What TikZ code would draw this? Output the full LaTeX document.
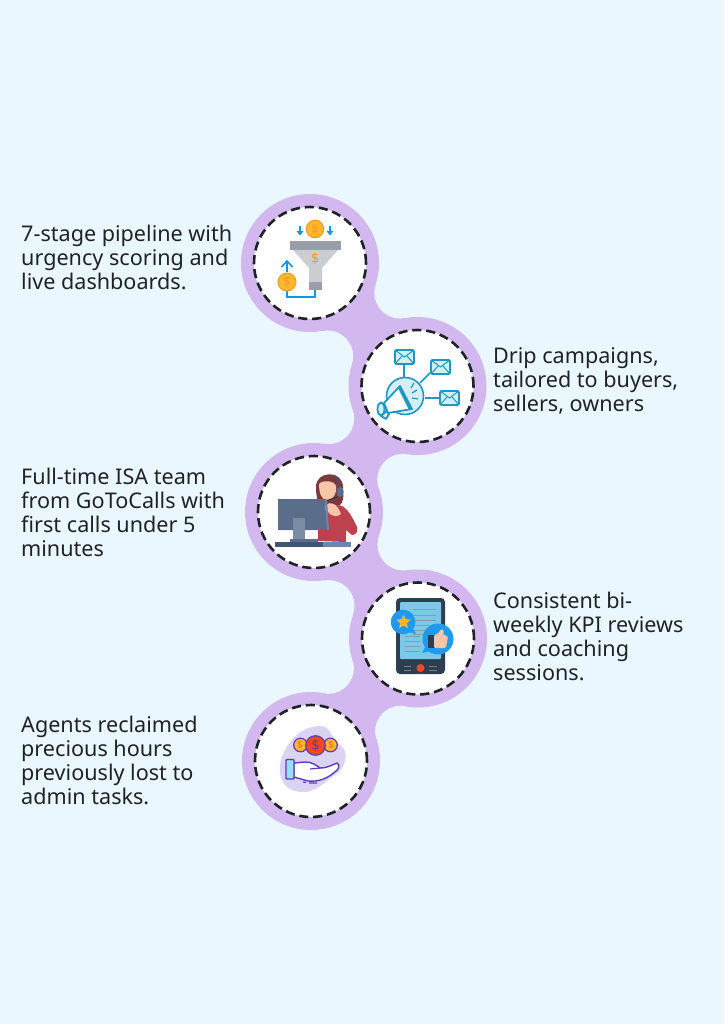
\documentclass[tikz,border=0pt]{standalone}
\usepackage{fontspec}
\setmainfont{Noto Sans}
\usepackage{xcolor}
\usetikzlibrary{calc}
\usetikzlibrary{shapes.geometric}
\definecolor{paper}{HTML}{EBF7FE}
\definecolor{lilac}{HTML}{D2B8EF}
\definecolor{ink}{HTML}{1E2326}
\definecolor{coin}{HTML}{FFB72E}
\definecolor{coinedge}{HTML}{F59B23}
\definecolor{skyblue}{HTML}{1296E6}
\definecolor{mailblue}{HTML}{2196BE}
\definecolor{maillight}{HTML}{D5EEF7}
\definecolor{violet}{HTML}{5B3FB0}
\definecolor{blob}{HTML}{DAD3F3}
\definecolor{greydark}{HTML}{9A9EA8}
\definecolor{greylight}{HTML}{CBCDD1}
\definecolor{skin}{HTML}{F7C6A8}
\definecolor{hair}{HTML}{7A3B3F}
\definecolor{jumper}{HTML}{BC424D}
\definecolor{slate}{HTML}{5A6E8C}
\definecolor{slatedark}{HTML}{3F5573}
\definecolor{slatelight}{HTML}{6C84B0}
\definecolor{phone}{HTML}{2C3E50}
\definecolor{screen}{HTML}{7CC8E8}
\definecolor{bubble}{HTML}{1E9BF0}
\tikzset{
	ring/.style={circle,fill=lilac,minimum size=138pt,inner sep=0pt,outer sep=0pt},
	spot/.style={circle,fill=white,draw=ink,line width=2.6pt,dash pattern=on 9.2pt off 4.8pt,minimum size=112pt,inner sep=0pt,outer sep=0pt},
	caption/.style={anchor=west,align=left,inner sep=0pt,text=ink,font=\fontsize{21.6}{24}\selectfont},
	dollar/.style={inner sep=0pt,font=\fontsize{#1}{#1}\selectfont\bfseries},
	envelope/.style={draw=mailblue,line width=1.8pt,fill=maillight,rounded corners=1.5pt},
}
\begin{document}
\begin{tikzpicture}[x=1pt,y=-1pt]
		\fill[paper] (0,0) rectangle (724,1024);
		\useasboundingbox (0,0) rectangle (724,1024);
		\coordinate (c1) at (310,263);
		\coordinate (c2) at (417.5,386);
		\coordinate (c3) at (314,512);
		\coordinate (c4) at (418,638.5);
		\coordinate (c5) at (311,761);
		% necks between the rings
		\foreach \a/\b in {c1/c2,c2/c3,c3/c4,c4/c5}{
			\coordinate (fa) at ($(\a)!.5!(\b)!48.5pt!90:(\b)$);
			\coordinate (fb) at ($(\a)!.5!(\b)!48.5pt!-90:(\b)$);
			\fill[lilac] (\a) -- (fa) -- (\b) -- (fb) -- cycle;
			\fill[paper] (fa) circle (26);
			\fill[paper] (fb) circle (26);
		}
		\foreach \n in {1,...,5}{
			\node[ring] (ring\n) at (c\n) {};
			\node[spot] (spot\n) at (c\n) {};
		}
		\node[caption] (text1) at (21,257) {7-stage pipeline with\\urgency scoring and\\live dashboards.};
		\node[caption] (text2) at (493,380.5) {Drip campaigns,\\tailored to buyers,\\sellers, owners};
		\node[caption] (text3) at (21,512) {Full-time ISA team\\from GoToCalls with\\first calls under 5\\minutes};
		\node[caption] (text4) at (493,636.5) {Consistent bi-\\weekly KPI reviews\\and coaching\\sessions.};
		\node[caption] (text5) at (21,760) {Agents reclaimed\\precious hours\\previously lost to\\admin tasks.};
		% funnel
		\draw[skyblue,line width=1.5pt] (315,290) -- (315,297) -- (287,297) -- (287,291);
		\fill[greylight] (293,250) -- (338,250) -- (322,268) -- (322,282) -- (309,282) -- (309,268) -- cycle;
		\fill[greydark] (290,241) rectangle (341,250);
		\fill[greydark] (309,282) rectangle (322,290);
		\node[dollar=14,text=coinedge] (fd) at (315,259) {\$};
		\draw[coinedge,fill=coin,line width=1pt] (315,229) circle (8.8);
		\node[dollar=13,text=coinedge] (cd1) at (315,229) {\$};
		\draw[coinedge,fill=coin,line width=1pt] (287,282) circle (9);
		\node[dollar=13,text=coinedge] (cd2) at (287,282) {\$};
		\draw[skyblue,line width=1.6pt] (300,226) -- (300,233);
		\draw[skyblue,line width=1.6pt] (330,226) -- (330,233);
		\fill[skyblue] (296.5,231) -- (303.5,231) -- (300,235.5) -- cycle;
		\fill[skyblue] (326.5,231) -- (333.5,231) -- (330,235.5) -- cycle;
		\draw[skyblue,line width=1.6pt] (287,272) -- (287,262);
		\draw[skyblue,line width=1.6pt] (281.5,267) -- (287,261) -- (292.5,267);
		% megaphone
		\draw[mailblue,line width=1.6pt] (404,364) -- (404,377);
		\draw[mailblue,line width=1.6pt] (430,373) -- (420,383);
		\draw[mailblue,line width=1.6pt] (425,398) -- (439,398);
		\foreach \x/\y in {395/350,431/360,440/391}{
			\draw[envelope] (\x,\y) rectangle ++(19,14);
			\draw[mailblue,line width=1pt] (\x,\y) -- ++(9.5,7) -- ++(9.5,-7);
			\draw[mailblue,line width=1pt] (\x,\y+14) -- ++(7,-8) (\x+19,\y+14) -- ++(-7,-8);
		}
		\draw[mailblue,fill=maillight,line width=1.6pt] (405,396) circle (18.5);
		\draw[mailblue,fill=maillight,line width=1.8pt,line join=round] (381,416) -- (386,419) -- (389,414) -- (386,411) -- cycle;
		\draw[mailblue,fill=white,line width=1.8pt,line join=round] (400,386) -- (412,409) -- (388,413) -- (384,403) -- cycle;
		\fill[mailblue] (400,386) -- (412,409) -- (409,410) -- (398,388) -- cycle;
		\draw[mailblue,fill=maillight,line width=1.8pt] (381,409) ellipse (3.5 and 6.5);
		\draw[mailblue,line width=1.2pt] (411,388) -- (414,383);
		\draw[mailblue,line width=1.2pt] (412,393) -- (417,390);
		\draw[mailblue,line width=1.2pt] (412,398) -- (418,399);
		% agent at her desk
		\fill[hair] (316,487) .. controls (316,470) and (343,470) .. (343,487) .. controls (344,497) and (343,503) .. (340,505) -- (320,506) .. controls (317,500) and (316,495) .. (316,487) -- cycle;
		\fill[skin] (319,484) .. controls (322,480) and (334,480) .. (336,486) .. controls (337,494) and (333,500) .. (327,500) .. controls (322,500) and (319,494) .. (319,484) -- cycle;
		\draw[slatedark,line width=1pt] (334,475) .. controls (339,478) and (341,483) .. (340,488);
		\fill[slate] (340,492) ellipse (3.5 and 5);
		\draw[black!80,line width=1pt] (337,497) -- (326,501);
		\fill[jumper] (318,541) -- (318,518) .. controls (322,510) and (332,506) .. (337,505) .. controls (345,505) and (350,512) .. (357,527) .. controls (358,532) and (356,535) .. (352,535) -- (346,530) -- (346,542) -- cycle;
		\fill[skin] (326,505) .. controls (330,501) and (337,503) .. (341,514) .. controls (337,518) and (331,516) .. (328,512) -- cycle;
		\fill[slate] (278,499) -- (325,499) -- (327,530) -- (278,530) -- cycle;
		\fill[slatelight] (325,499) -- (327,499) -- (329,530) -- (327,530) -- cycle;
		\fill[slate!80!white] (293,518) rectangle (305,540);
		\fill[slate] (290,539) rectangle (318,542);
		\fill[slatedark] (275,542) rectangle (323,547);
		\fill[slatelight] (323,542) rectangle (351,547);
		% phone
		\fill[phone,rounded corners=4pt] (396,598) rectangle (445,674);
		\fill[screen,rounded corners=1pt] (400,602) rectangle (441,659);
		\foreach \y in {609,615,620,625,630,634}{
			\draw[gray!70!cyan,line width=1pt] (413,\y) -- (436,\y);
		}
		\foreach \y in {636,641,646,651}{
			\draw[gray!70!cyan,line width=1pt] (405,\y) -- (420,\y);
		}
		\fill[red!70!orange!85!white] (420.5,668) circle (4);
		\draw[gray,line width=.8pt] (404,666) -- (411,666) (404,670) -- (411,670) (429,666) -- (437,666) (429,670) -- (437,670);
		\fill[bubble] (403,622) circle (12.3);
		\fill[bubble] (412,627) -- (416,634) -- (408,632) -- cycle;
		\node[star,star points=5,star point ratio=2.1,fill=coin,inner sep=0pt,minimum size=15pt] (badge) at (403.5,622) {};
		\fill[bubble] (438,639) circle (15.5);
		\fill[bubble] (426,645) -- (422,653) -- (431,651) -- cycle;
		\fill[phone] (428,635) rectangle (434,648);
		\fill[skin,rounded corners=1.5pt] (434,635) -- (438,634) -- (441,629) -- (444,630) -- (443,635) -- (448,636) -- (446,648) -- (434,648) -- cycle;
		% hand with coins
		\fill[blob] (280,765) .. controls (283,745) and (300,726) .. (320,726) .. controls (332,726) and (330,738) .. (340,745) .. controls (350,752) and (346,768) .. (335,775) .. controls (325,782) and (316,792) .. (303,792) .. controls (290,792) and (278,785) .. (280,765) -- cycle;
		\draw[violet,fill=coin,line width=1.2pt] (300.5,745) circle (6.8);
		\draw[violet,fill=coin,line width=1.2pt] (330.5,745) circle (6.8);
		\node[dollar=10,text=coinedge!70!red] (hd1) at (300,745) {\$};
		\node[dollar=10,text=coinedge!70!red] (hd2) at (331,745) {\$};
		\draw[violet,fill=orange!40!red!90!white,line width=1.2pt] (315.5,745.5) circle (9.8);
		\node[dollar=14,text=violet] (hd3) at (315.5,745.5) {\$};
		\draw[violet,fill=white,line width=1.4pt,line join=round] (294,763) -- (305,762) .. controls (312,762) and (316,765) .. (320,768) .. controls (328,768) and (334,764) .. (337,763) .. controls (340,765) and (339,769) .. (336,771) .. controls (328,778) and (320,782) .. (308,781) -- (294,777) -- cycle;
		\draw[violet,line width=1.2pt] (320,768) -- (310,769);
		\draw[violet,fill=cyan!40!white,line width=1.4pt,rounded corners=.8pt] (286,759.5) rectangle (294,779);
		\draw[violet,line width=1.2pt] (303,782) -- (306,782.5) (309,783) -- (317,783);
	\end{tikzpicture}
\end{document}
